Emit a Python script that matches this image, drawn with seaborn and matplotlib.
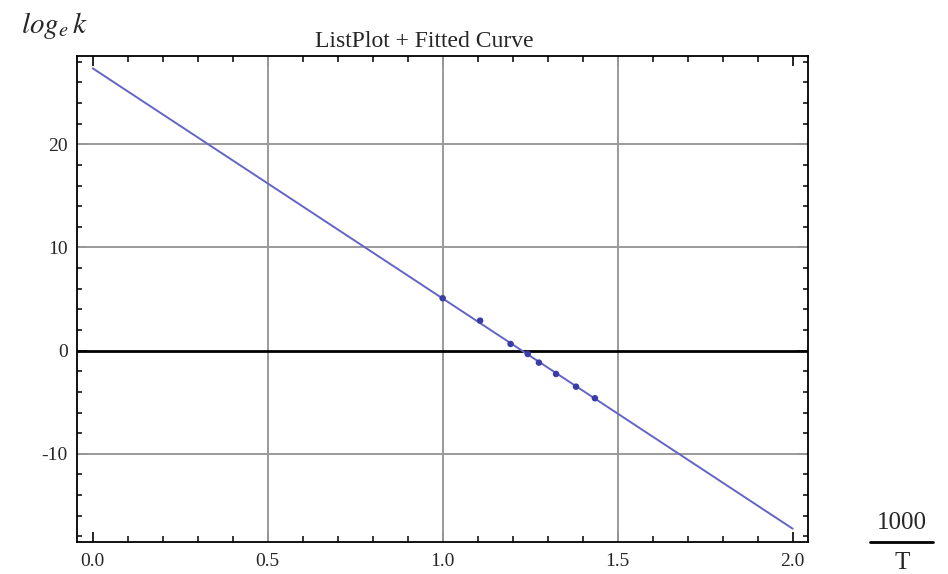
import matplotlib
matplotlib.use("Agg")
import matplotlib.pyplot as plt
import seaborn as sns
import pandas as pd
from matplotlib.ticker import MultipleLocator, FixedLocator, FuncFormatter
from matplotlib.lines import Line2D

# ---- data ----
inv_T = [1.000, 1.107, 1.194, 1.243, 1.275, 1.324, 1.381, 1.435]
ln_k = [5.08, 2.91, 0.65, -0.32, -1.16, -2.26, -3.49, -4.61]
fit_x = [0.0, 2.0]
fit_y = [27.36, -17.25]
x_ticks = [0.0, 0.5, 1.0, 1.5, 2.0]
y_ticks = [-10, 0, 10, 20]
title = "ListPlot + Fitted Curve"

sns.set_theme(style="white")
plt.rcParams["font.family"] = ["Liberation Serif", "DejaVu Serif"]
plt.rcParams["axes.unicode_minus"] = False
plt.rcParams["mathtext.fontset"] = "stix"

W, H = 948, 574
fig = plt.figure(figsize=(W / 100, H / 100), dpi=100)
left, right, top, bottom = 77.3, 807.7, 55.5, 542.3
ax = fig.add_axes([left / W, 1 - bottom / H, (right - left) / W, (bottom - top) / H])

pts = pd.DataFrame({"x": inv_T, "y": ln_k})
fit = pd.DataFrame({"x": fit_x, "y": fit_y})

# grid and zero axis
for xv in [0.5, 1.0, 1.5]:
    ax.axvline(xv, color="#9a9a9a", lw=1.4, zorder=1)
for yv in [-10, 10, 20]:
    ax.axhline(yv, color="#9a9a9a", lw=1.4, zorder=1)
ax.axhline(0, color="black", lw=2.0, zorder=2)

sns.lineplot(data=fit, x="x", y="y", ax=ax, color="#6464c8", lw=1.4, zorder=3)
sns.scatterplot(data=pts, x="x", y="y", ax=ax, color="#3c3ca8", s=22,
                edgecolor="none", zorder=4)

ax.set_xlim(-0.044, 2.043)
ax.set_ylim(-18.57, 28.6)
ax.set_xlabel("")
ax.set_ylabel("")

ax.xaxis.set_major_locator(FixedLocator(x_ticks))
ax.xaxis.set_minor_locator(MultipleLocator(0.1))
ax.yaxis.set_major_locator(FixedLocator(y_ticks))
ax.yaxis.set_minor_locator(MultipleLocator(2))
ax.xaxis.set_major_formatter(FuncFormatter(lambda v, p: f"{v:.1f}"))
ax.yaxis.set_major_formatter(FuncFormatter(lambda v, p: f"{int(round(v))}"))

ax.tick_params(which="both", direction="in", top=True, right=True,
               bottom=True, left=True, color="black")
ax.tick_params(axis="x", which="major", length=7.5, width=1.2, labelsize=14, pad=8)
ax.tick_params(axis="x", which="minor", length=4.5, width=1.1)
ax.tick_params(axis="y", which="major", length=7, width=1.2, labelsize=14, pad=7)
ax.tick_params(axis="y", which="minor", length=3.8, width=1.1)

for s in ax.spines.values():
    s.set_visible(True)
    s.set_color("black")
    s.set_linewidth(1.3)

# title and axis labels
fig.text(424 / W, 1 - 47 / H, title, ha="center", va="baseline", fontsize=17)
fig.text(21 / W, 1 - 33 / H, r"$log_e\, k$", ha="left", va="baseline", fontsize=21)
fig.text(902 / W, 1 - 529 / H, "1000", ha="center", va="baseline", fontsize=18,
         family=["Liberation Serif"])
fig.text(902 / W, 1 - 569 / H, "T", ha="center", va="baseline", fontsize=18,
         family=["Liberation Serif"])
fig.add_artist(Line2D([870 / W, 933 / W], [1 - 541.7 / H, 1 - 541.7 / H],
                      transform=fig.transFigure, color="black", lw=2.0))

fig.savefig("out.png", dpi=100)
